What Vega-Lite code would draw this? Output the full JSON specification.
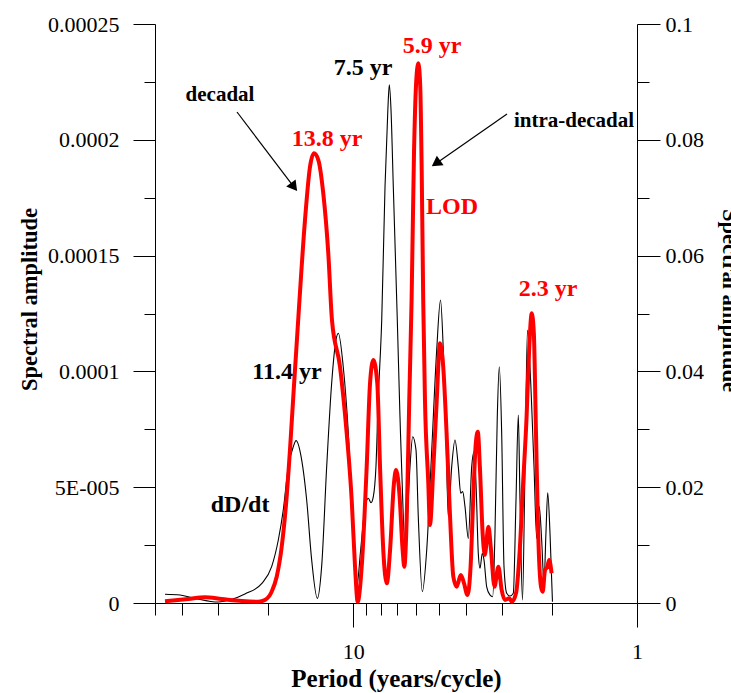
{
  "$schema": "https://vega.github.io/schema/vega-lite/v6.json",
  "width": 482,
  "height": 579,
  "autosize": {"type": "none"},
  "padding": {"left": 155, "top": 24, "right": 94, "bottom": 90},
  "background": "white",
  "config": {
    "view": {"stroke": null},
    "font": "Liberation Serif",
    "axis": {
      "grid": false,
      "domainColor": "#000",
      "tickColor": "#000",
      "labelColor": "#000",
      "titleColor": "#000",
      "labelFont": "Liberation Serif",
      "titleFont": "Liberation Serif",
      "labelFontSize": 22,
      "titleFontWeight": "bold",
      "titleFontSize": 22.5,
      "domainWidth": 1,
      "tickWidth": 1
    }
  },
  "datasets": {
    "dd": [
      {"period": 46.1, "amp": 3.8e-6}, {"period": 40.8, "amp": 3.45e-6}, {"period": 36.1, "amp": 2.0e-6},
      {"period": 29.9, "amp": 4.3e-7}, {"period": 26.8, "amp": 1.6e-6}, {"period": 24.1, "amp": 3.9e-6},
      {"period": 21.0, "amp": 8.5e-6}, {"period": 19.4, "amp": 1.57e-5}, {"period": 18.38, "amp": 2.72e-5},
      {"period": 17.65, "amp": 4.02e-5}, {"period": 16.95, "amp": 5.89e-5}, {"period": 16.27, "amp": 6.75e-5},
      {"period": 15.92, "amp": 7.01e-5}, {"period": 15.2, "amp": 6.17e-5}, {"period": 14.6, "amp": 4.45e-5},
      {"period": 14.02, "amp": 1.86e-5}, {"period": 13.39, "amp": 2.0e-6}, {"period": 12.93, "amp": 1.57e-5},
      {"period": 12.41, "amp": 5.89e-5}, {"period": 11.92, "amp": 9.49e-5}, {"period": 11.51, "amp": 1.136e-4},
      {"period": 11.29, "amp": 1.165e-4}, {"period": 10.85, "amp": 1.02e-4}, {"period": 10.41, "amp": 7.33e-5},
      {"period": 10.0, "amp": 3.01e-5}, {"period": 9.73, "amp": 7.0e-6}, {"period": 9.42, "amp": 2.29e-5},
      {"period": 9.09, "amp": 4.16e-5}, {"period": 8.85, "amp": 4.52e-5}, {"period": 8.66, "amp": 4.33e-5},
      {"period": 8.5, "amp": 4.59e-5}, {"period": 8.32, "amp": 5.89e-5}, {"period": 8.17, "amp": 8.77e-5},
      {"period": 7.94, "amp": 1.222e-4}, {"period": 7.73, "amp": 1.798e-4}, {"period": 7.555, "amp": 2.129e-4},
      {"period": 7.466, "amp": 2.237e-4}, {"period": 7.363, "amp": 2.129e-4}, {"period": 7.228, "amp": 1.798e-4},
      {"period": 6.997, "amp": 1.222e-4}, {"period": 6.846, "amp": 8.04e-5}, {"period": 6.665, "amp": 3.73e-5},
      {"period": 6.574, "amp": 2.43e-5}, {"period": 6.451, "amp": 3.73e-5}, {"period": 6.311, "amp": 5.89e-5},
      {"period": 6.175, "amp": 7.18e-5}, {"period": 6.012, "amp": 6.61e-5}, {"period": 5.901, "amp": 3.73e-5},
      {"period": 5.711, "amp": 4.9e-6}, {"period": 5.511, "amp": 2.29e-5}, {"period": 5.291, "amp": 6.61e-5},
      {"period": 5.082, "amp": 1.092e-4}, {"period": 4.927, "amp": 1.308e-4}, {"period": 4.817, "amp": 1.092e-4},
      {"period": 4.713, "amp": 7.33e-5}, {"period": 4.626, "amp": 3.73e-5}, {"period": 4.499, "amp": 5.89e-5},
      {"period": 4.381, "amp": 7.04e-5}, {"period": 4.265, "amp": 5.89e-5}, {"period": 4.182, "amp": 4.74e-5},
      {"period": 4.115, "amp": 4.81e-5}, {"period": 4.039, "amp": 4.16e-5}, {"period": 3.932, "amp": 2.79e-5},
      {"period": 3.825, "amp": 5.89e-5}, {"period": 3.754, "amp": 6.53e-5}, {"period": 3.694, "amp": 5.17e-5},
      {"period": 3.626, "amp": 2.15e-5}, {"period": 3.575, "amp": 1.5e-5}, {"period": 3.51, "amp": 2.15e-5},
      {"period": 3.462, "amp": 1.86e-5}, {"period": 3.387, "amp": 7.0e-6}, {"period": 3.298, "amp": 3.5e-6},
      {"period": 3.226, "amp": 2.7e-6}, {"period": 3.167, "amp": 3.01e-5}, {"period": 3.108, "amp": 8.04e-5},
      {"period": 3.058, "amp": 1.02e-4}, {"period": 2.999, "amp": 7.33e-5}, {"period": 2.943, "amp": 1.57e-5},
      {"period": 2.879, "amp": 4.2e-6}, {"period": 2.804, "amp": 3.0e-6}, {"period": 2.729, "amp": 4.2e-6},
      {"period": 2.67, "amp": 4.45e-5}, {"period": 2.62, "amp": 8.12e-5}, {"period": 2.585, "amp": 4.45e-5},
      {"period": 2.533, "amp": 1.3e-6}, {"period": 2.482, "amp": 5.89e-5}, {"period": 2.432, "amp": 1.179e-4},
      {"period": 2.384, "amp": 1.02e-4}, {"period": 2.307, "amp": 5.89e-5}, {"period": 2.257, "amp": 2.79e-5},
      {"period": 2.21, "amp": 4.16e-5}, {"period": 2.168, "amp": 2.72e-5}, {"period": 2.127, "amp": 8.5e-6},
      {"period": 2.094, "amp": 3.01e-5}, {"period": 2.064, "amp": 4.76e-5}, {"period": 2.026, "amp": 3.01e-5},
      {"period": 1.986, "amp": 5.6e-7}
    ],
    "lod": [
      {"period": 46.1, "lod": 0.00029}, {"period": 38.15, "lod": 0.00069}, {"period": 33.3, "lod": 0.00098},
      {"period": 29.1, "lod": 0.00069}, {"period": 24.7, "lod": 0.00035}, {"period": 21.6, "lod": 0.00022},
      {"period": 20.5, "lod": 0.00052}, {"period": 19.4, "lod": 0.00195}, {"period": 18.62, "lod": 0.00454},
      {"period": 17.88, "lod": 0.00972}, {"period": 17.27, "lod": 0.01693}, {"period": 16.72, "lod": 0.02642},
      {"period": 16.18, "lod": 0.03765}, {"period": 15.6, "lod": 0.04974}, {"period": 14.8, "lod": 0.06615},
      {"period": 14.21, "lod": 0.07535}, {"period": 13.76, "lod": 0.07767}, {"period": 13.28, "lod": 0.07651},
      {"period": 12.76, "lod": 0.07076}, {"period": 12.25, "lod": 0.0604}, {"period": 11.89, "lod": 0.04888},
      {"period": 11.14, "lod": 0.04081}, {"period": 10.55, "lod": 0.02931}, {"period": 10.13, "lod": 0.01779},
      {"period": 9.86, "lod": 0.00627}, {"period": 9.65, "lod": 0.00022}, {"period": 9.34, "lod": 0.00627},
      {"period": 8.97, "lod": 0.02354}, {"period": 8.73, "lod": 0.03794}, {"period": 8.5, "lod": 0.04197},
      {"period": 8.23, "lod": 0.03794}, {"period": 8.05, "lod": 0.02354}, {"period": 7.84, "lod": 0.00915},
      {"period": 7.62, "lod": 0.0034}, {"period": 7.42, "lod": 0.00915}, {"period": 7.19, "lod": 0.02067},
      {"period": 7.07, "lod": 0.02297}, {"period": 6.88, "lod": 0.01895}, {"period": 6.7, "lod": 0.00915},
      {"period": 6.61, "lod": 0.00627}, {"period": 6.48, "lod": 0.0149}, {"period": 6.35, "lod": 0.03506},
      {"period": 6.23, "lod": 0.05233}, {"period": 6.11, "lod": 0.07772}, {"period": 6.01, "lod": 0.08946},
      {"period": 5.9, "lod": 0.09321}, {"period": 5.81, "lod": 0.08946}, {"period": 5.74, "lod": 0.07478},
      {"period": 5.67, "lod": 0.05233}, {"period": 5.59, "lod": 0.03506}, {"period": 5.44, "lod": 0.02067},
      {"period": 5.37, "lod": 0.01347}, {"period": 5.22, "lod": 0.02354}, {"period": 5.08, "lod": 0.03506},
      {"period": 4.95, "lod": 0.04485}, {"period": 4.82, "lod": 0.04081}, {"period": 4.69, "lod": 0.02931},
      {"period": 4.56, "lod": 0.0149}, {"period": 4.44, "lod": 0.00454}, {"period": 4.32, "lod": 0.00282},
      {"period": 4.18, "lod": 0.00484}, {"period": 4.07, "lod": 0.0034}, {"period": 3.96, "lod": 0.00138},
      {"period": 3.86, "lod": 0.00627}, {"period": 3.78, "lod": 0.01779}, {"period": 3.7, "lod": 0.02758},
      {"period": 3.64, "lod": 0.02959}, {"period": 3.58, "lod": 0.02354}, {"period": 3.5, "lod": 0.01204},
      {"period": 3.44, "lod": 0.00829}, {"period": 3.34, "lod": 0.01318}, {"period": 3.27, "lod": 0.00915},
      {"period": 3.18, "lod": 0.00282}, {"period": 3.08, "lod": 0.00627}, {"period": 3.0, "lod": 0.00225},
      {"period": 2.92, "lod": 0.00052}, {"period": 2.82, "lod": 0.00081}, {"period": 2.76, "lod": 0.00022},
      {"period": 2.67, "lod": 0.00168}, {"period": 2.59, "lod": 0.00915}, {"period": 2.52, "lod": 0.02067},
      {"period": 2.45, "lod": 0.03218}, {"period": 2.4, "lod": 0.0437}, {"period": 2.35, "lod": 0.05003},
      {"period": 2.31, "lod": 0.04658}, {"period": 2.27, "lod": 0.02931}, {"period": 2.23, "lod": 0.01204},
      {"period": 2.18, "lod": 0.00282}, {"period": 2.15, "lod": 0.00195}, {"period": 2.11, "lod": 0.0057},
      {"period": 2.07, "lod": 0.00627}, {"period": 2.04, "lod": 0.00743}, {"period": 2.0, "lod": 0.00513}
    ],
    "labels": [
      {"label": "decadal", "period": 29.5, "amp": 2.193e-4, "group": "small"},
      {"label": "intra-decadal", "period": 1.668, "amp": 2.081e-4, "group": "small"},
      {"label": "7.5 yr", "period": 9.24, "amp": 2.312e-4, "group": "black"},
      {"label": "11.4 yr", "period": 17.13, "amp": 9.97e-5, "group": "black"},
      {"label": "dD/dt", "period": 25.07, "amp": 4.23e-5, "group": "black"},
      {"label": "13.8 yr", "period": 12.38, "amp": 2.004e-4, "group": "red"},
      {"label": "5.9 yr", "period": 5.28, "amp": 2.405e-4, "group": "red"},
      {"label": "LOD", "period": 4.49, "amp": 1.71e-4, "group": "red"},
      {"label": "2.3 yr", "period": 2.06, "amp": 1.356e-4, "group": "red"}
    ],
    "arrows": [
      {"period": 25.7, "amp": 2.12e-4, "period2": 16.18, "amp2": 1.796e-4, "head": 142.7},
      {"period": 2.872, "amp": 2.111e-4, "period2": 5.11, "amp2": 1.898e-4, "head": 235.1}
    ]
  },
  "encoding": {
    "x": {
      "field": "period",
      "type": "quantitative",
      "scale": {"type": "log", "domain": [1, 50], "reverse": true, "nice": false},
      "axis": {
        "title": "Period (years/cycle)",
        "titleFontSize": 25,
        "values": [50, 40, 30, 20, 10, 9, 8, 7, 6, 5, 4, 3, 2, 1],
        "labelExpr": "datum.value == 10 ? '10' : (datum.value == 1 ? '1' : '')",
        "tickSize": {"expr": "(datum.value == 10 || datum.value == 1) ? 24 : 12"},
        "labelPadding": 14,
        "labelFlush": false,
        "labelOverlap": false,
        "titleY": 83,
        "titleBaseline": "alphabetic"
      }
    }
  },
  "resolve": {"scale": {"y": "independent"}, "axis": {"y": "independent"}},
  "layer": [
    {
      "data": {"name": "dd"},
      "mark": {"type": "line", "color": "#000000", "strokeWidth": 1.1, "interpolate": "monotone"},
      "encoding": {
        "y": {
          "field": "amp",
          "type": "quantitative",
          "scale": {"domain": [0, 0.00025], "nice": false, "zero": true},
          "axis": {
            "orient": "left",
            "title": "Spectral amplitude",
            "values": [0, 0.000025, 0.00005, 0.000075, 0.0001, 0.000125, 0.00015, 0.000175, 0.0002, 0.000225, 0.00025],
            "labelExpr": "round(datum.value/0.000025) == 0 ? '0' : round(datum.value/0.000025) == 2 ? '5E-005' : round(datum.value/0.000025) == 4 ? '0.0001' : round(datum.value/0.000025) == 6 ? '0.00015' : round(datum.value/0.000025) == 8 ? '0.0002' : round(datum.value/0.000025) == 10 ? '0.00025' : ''",
            "tickSize": {"expr": "round(datum.value/0.000025) % 2 == 0 ? 22 : 11"},
            "labelPadding": 14,
            "labelOverlap": false,
            "labelFlush": false,
            "titleAngle": -90,
            "titleX": -119,
            "titleY": 275,
            "titleAlign": "center",
            "titleBaseline": "alphabetic"
          }
        }
      }
    },
    {
      "data": {"name": "lod"},
      "mark": {"type": "line", "color": "#ff0000", "strokeWidth": 4, "interpolate": "monotone"},
      "encoding": {
        "y": {
          "field": "lod",
          "type": "quantitative",
          "scale": {"domain": [0, 0.1], "nice": false, "zero": true},
          "axis": {
            "orient": "right",
            "title": "Spectral amplitude",
            "values": [0, 0.01, 0.02, 0.03, 0.04, 0.05, 0.06, 0.07, 0.08, 0.09, 0.1],
            "labelExpr": "round(datum.value/0.01) == 0 ? '0' : round(datum.value/0.01) == 10 ? '0.1' : round(datum.value/0.01) % 2 == 0 ? '0.0' + round(datum.value/0.01) : ''",
            "tickSize": {"expr": "round(datum.value/0.01) % 2 == 0 ? 23 : 12"},
            "labelPadding": 5,
            "labelOverlap": false,
            "labelFlush": false,
            "titleAngle": 90,
            "titleX": 85,
            "titleY": 276,
            "titleAlign": "center",
            "titleBaseline": "alphabetic"
          }
        }
      }
    },
    {
      "data": {"name": "arrows"},
      "mark": {"type": "rule", "color": "#000000", "strokeWidth": 1.2},
      "encoding": {
        "x2": {"field": "period2"},
        "y": {"field": "amp", "type": "quantitative", "scale": {"domain": [0, 0.00025], "nice": false}, "axis": null},
        "y2": {"field": "amp2"}
      }
    },
    {
      "data": {"name": "arrows"},
      "mark": {"type": "point", "shape": "triangle-up", "filled": true, "color": "#000000", "size": 140, "opacity": 1},
      "encoding": {
        "x": {"field": "period2", "type": "quantitative"},
        "y": {"field": "amp2", "type": "quantitative", "scale": {"domain": [0, 0.00025], "nice": false}, "axis": null},
        "angle": {"field": "head", "type": "quantitative", "scale": null}
      }
    },
    {
      "data": {"name": "labels"},
      "transform": [{"filter": "datum.group == 'small'"}],
      "mark": {"type": "text", "font": "Liberation Serif", "fontWeight": "bold", "fontSize": 21, "color": "#000000", "align": "center", "baseline": "middle"},
      "encoding": {
        "y": {"field": "amp", "type": "quantitative", "scale": {"domain": [0, 0.00025], "nice": false}, "axis": null},
        "text": {"field": "label"}
      }
    },
    {
      "data": {"name": "labels"},
      "transform": [{"filter": "datum.group == 'black'"}],
      "mark": {"type": "text", "font": "Liberation Serif", "fontWeight": "bold", "fontSize": 24, "color": "#000000", "align": "center", "baseline": "middle"},
      "encoding": {
        "y": {"field": "amp", "type": "quantitative", "scale": {"domain": [0, 0.00025], "nice": false}, "axis": null},
        "text": {"field": "label"}
      }
    },
    {
      "data": {"name": "labels"},
      "transform": [{"filter": "datum.group == 'red'"}],
      "mark": {"type": "text", "font": "Liberation Serif", "fontWeight": "bold", "fontSize": 24, "color": "#ff0000", "align": "center", "baseline": "middle"},
      "encoding": {
        "y": {"field": "amp", "type": "quantitative", "scale": {"domain": [0, 0.00025], "nice": false}, "axis": null},
        "text": {"field": "label"}
      }
    }
  ]
}
